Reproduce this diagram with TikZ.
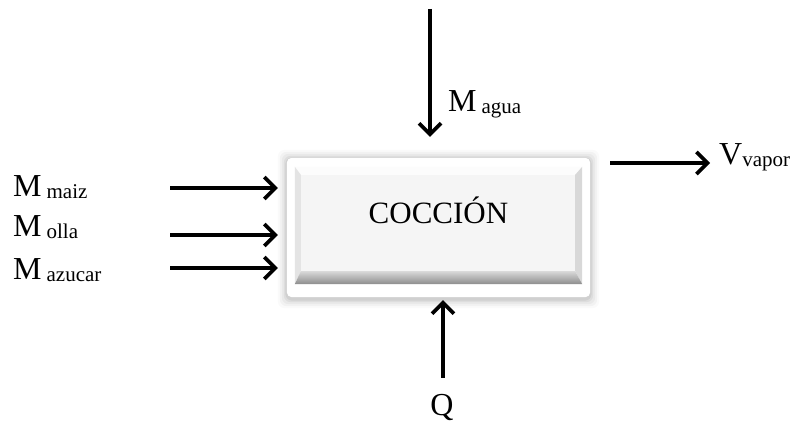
\documentclass[tikz,border=0pt]{standalone}
\usepackage{fontspec}
\setmainfont{Liberation Serif}
\usepackage{tikz}
\usetikzlibrary{arrows.meta,positioning,calc,backgrounds}
\definecolor{cface}{HTML}{F5F5F5}
\definecolor{cbevT}{HTML}{FCFCFC}
\definecolor{cbevL}{HTML}{E4E4E4}
\definecolor{cbevR}{HTML}{D8D8D8}
\newcommand{\lowtxt}[1]{\raisebox{-2pt}{\fontsize{21}{24}\selectfont #1}}
\tikzset{
  lbl/.style={inner sep=0pt, anchor=base west, font=\fontsize{32}{36}\selectfont},
  proc/.style={minimum width=303pt, minimum height=139pt, inner sep=0pt,
               text height=20pt, text depth=28pt, font=\fontsize{31}{36}\selectfont},
  flow/.style={-{Straight Barb[length=11pt,width=22pt]}, line width=3.6pt},
}

\begin{document}
\begin{tikzpicture}[x=1pt, y=1pt]
  \useasboundingbox (0,0) rectangle (792,425);
  \node[proc] (cook) at (438.5,197.5) {COCCIÓN};

  \coordinate (agua-src) at (430,416);
  \coordinate (maiz-src) at (170,237);
  \coordinate (olla-src) at (170,190);
  \coordinate (azucar-src) at (170,157);
  \coordinate (vapor-end) at (710,262);
  \coordinate (q-src) at (443,47);

  \node[lbl] (agua) at (448,313) {M\kern5pt\lowtxt{agua}};
  \node[lbl] (maiz) at (13,228) {M\kern5pt\lowtxt{maiz}};
  \node[lbl] (olla) at (13,188) {M\kern5pt\lowtxt{olla}};
  \node[lbl] (azucar) at (13,145) {M\kern5pt\lowtxt{azucar}};
  \node[lbl] (vapor) at (719,260) {V\lowtxt{vapor}};
  \node[lbl, anchor=base] (q) at (442,9) {Q};

  \draw[flow, shorten >=21pt] (agua-src) -- (agua-src |- cook.north);
  \draw[flow, shorten >=9pt] (maiz-src) -- (maiz-src -| cook.west);
  \draw[flow, shorten >=9pt] (olla-src) -- (olla-src -| cook.west);
  \draw[flow, shorten >=9pt] (azucar-src) -- (azucar-src -| cook.west);
  \draw[flow, shorten <=20pt] (cook.east |- vapor-end) -- (vapor-end);
  \draw[flow, shorten >=3pt] (q-src) -- (q-src |- cook.south);

  % raised button behind the process label
  \begin{scope}[on background layer]
    \foreach \s/\o in {9/0.02,7/0.03,5/0.04,3/0.05,1.5/0.06}
      \fill[black, opacity=\o, rounded corners=7pt]
        ($(cook.south west)+(-\s,-\s-2)$) rectangle ($(cook.north east)+(\s,\s-1)$);
    \fill[white, rounded corners=5pt] (cook.south west) rectangle (cook.north east);
    \coordinate (bo-sw) at ($(cook.south west)+(8,13)$);
    \coordinate (bo-ne) at ($(cook.north east)+(-8,-9)$);
    \coordinate (fa-sw) at ($(cook.south west)+(14,26)$);
    \coordinate (fa-ne) at ($(cook.north east)+(-15,-17)$);
    \fill[cbevT] (bo-sw |- bo-ne) -- (bo-ne) -- (fa-ne) -- (fa-sw |- fa-ne) -- cycle;
    \fill[cbevL] (bo-sw) -- (fa-sw) -- (fa-sw |- fa-ne) -- (bo-sw |- bo-ne) -- cycle;
    \fill[cbevR] (bo-ne |- bo-sw) -- (bo-ne) -- (fa-ne) -- (fa-ne |- fa-sw) -- cycle;
    \shade[top color=black!15, bottom color=black!45]
      (bo-sw) -- (bo-ne |- bo-sw) -- (fa-ne |- fa-sw) -- (fa-sw) -- cycle;
    \fill[cface] (fa-sw) rectangle (fa-ne);
  \end{scope}
\end{tikzpicture}
\end{document}
